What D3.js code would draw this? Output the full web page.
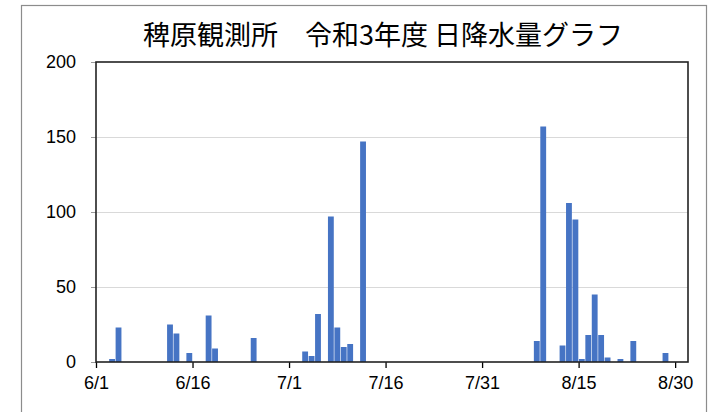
<!DOCTYPE html>
<html>
<head>
<meta charset="utf-8">
<script src="https://cdn.jsdelivr.net/npm/d3@7"></script>
<style>
  body { margin: 0; background: #fff; }
  text { font-family: "Liberation Sans", Arial, sans-serif; fill: #000; }
  .title { font-family: "Noto Sans CJK JP", sans-serif; }
</style>
</head>
<body>
<svg id="chart" width="709" height="412"></svg>
<script>
// Daily rainfall (mm) at the 稗原 station, summer of 令和3年 (2021)
const rainDates = [
  "2021-06-03", "2021-06-04", "2021-06-12", "2021-06-13", "2021-06-15",
  "2021-06-18", "2021-06-19", "2021-06-25",
  "2021-07-03", "2021-07-04", "2021-07-05", "2021-07-07", "2021-07-08",
  "2021-07-09", "2021-07-10", "2021-07-12",
  "2021-08-08", "2021-08-09", "2021-08-12", "2021-08-13", "2021-08-14",
  "2021-08-15", "2021-08-16", "2021-08-17", "2021-08-18", "2021-08-19",
  "2021-08-21", "2021-08-23", "2021-08-28"
];
const rainValues = [
  2, 23, 25, 19, 6,
  31, 9, 16,
  7, 4, 32, 97, 23,
  10, 12, 147,
  14, 157, 11, 106, 95,
  2, 18, 45, 18, 3,
  2, 14, 6
];
const yTicks = [0, 50, 100, 150, 200];
const xTickDates = ["2021-06-01", "2021-06-16", "2021-07-01", "2021-07-16", "2021-07-31", "2021-08-15", "2021-08-30"];
const xStart = "2021-06-01";
const xEnd = "2021-09-01";
const chartTitle = "稗原観測所　令和3年度 日降水量グラフ";

const parse = d3.timeParse("%Y-%m-%d");
const fmt = d3.timeFormat("%-m/%-d");
const svg = d3.select("#chart");

const plot = { left: 96, right: 688, top: 62, bottom: 362 };

const x = d3.scaleTime()
  .domain([parse(xStart), parse(xEnd)])
  .range([plot.left, plot.right]);
const y = d3.scaleLinear()
  .domain([0, 200])
  .range([plot.bottom, plot.top]);

// outer chart frame
svg.append("rect")
  .attr("x", 21.5).attr("y", 5.5)
  .attr("width", 685).attr("height", 430)
  .attr("fill", "#fff").attr("stroke", "#8c8c8c").attr("stroke-width", 1.2);

// title
svg.append("text")
  .attr("class", "title")
  .attr("x", 383).attr("y", 45)
  .attr("text-anchor", "middle")
  .attr("font-size", 27)
  .text(chartTitle);

// horizontal gridlines
svg.append("g")
  .selectAll("line")
  .data(yTicks.filter(v => v > 0 && v < 200))
  .join("line")
  .attr("x1", plot.left).attr("x2", plot.right)
  .attr("y1", d => y(d) + 0.5).attr("y2", d => y(d) + 0.5)
  .attr("stroke", "#d9d9d9").attr("stroke-width", 1);

// bars
const rows = rainDates.map((d, i) => ({ date: parse(d), value: rainValues[i] }));
svg.append("g")
  .selectAll("rect")
  .data(rows)
  .join("rect")
  .attr("x", d => x(d.date) + 0.3)
  .attr("width", d => x(d3.timeDay.offset(d.date, 1)) - x(d.date) - 0.6)
  .attr("y", d => y(d.value))
  .attr("height", d => y(0) - y(d.value))
  .attr("fill", "#4674c4");

// y axis labels and small outer ticks
const yAxis = d3.axisLeft(y).tickValues(yTicks).tickSize(5).tickPadding(15);
const gy = svg.append("g").attr("transform", `translate(${plot.left},0)`).call(yAxis);
gy.select(".domain").remove();
gy.selectAll(".tick line").attr("stroke", "#9a9a9a");
gy.selectAll(".tick text").attr("font-size", 18).attr("fill", "#000");

// x axis
const xAxis = d3.axisBottom(x)
  .tickValues(xTickDates.map(parse))
  .tickFormat(fmt)
  .tickSize(6).tickPadding(8);
const gx = svg.append("g").attr("transform", `translate(0,${plot.bottom})`).call(xAxis);
gx.select(".domain").remove();
gx.selectAll(".tick line").attr("stroke", "#000").attr("stroke-width", 1.3);
gx.selectAll(".tick text").attr("font-size", 18).attr("fill", "#000");

// plot area border
svg.append("rect")
  .attr("x", plot.left).attr("y", plot.top)
  .attr("width", plot.right - plot.left).attr("height", plot.bottom - plot.top)
  .attr("fill", "none").attr("stroke", "#222").attr("stroke-width", 1.6);
</script>
</body>
</html>
